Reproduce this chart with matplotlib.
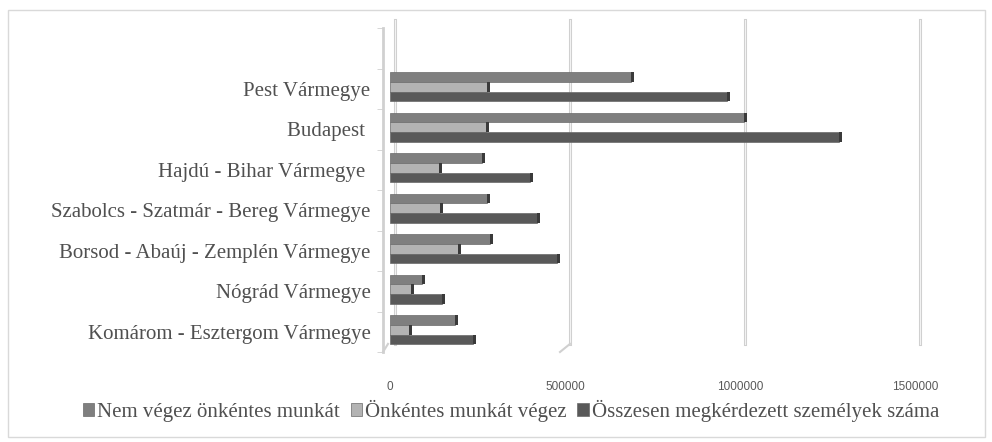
import matplotlib.pyplot as plt
import matplotlib.transforms as mtransforms
from matplotlib.patches import Rectangle
import numpy as np

# counties (bottom -> top as drawn)
megyek = ['Komárom - Esztergom Vármegye', 'Nógrád Vármegye',
          'Borsod - Abaúj - Zemplén Vármegye', 'Szabolcs - Szatmár - Bereg Vármegye',
          'Hajdú - Bihar Vármegye ', 'Budapest ', 'Pest Vármegye']
nem_vegez = [186000, 90000, 286000, 278000, 262000, 1011000, 688000]
onkentes = [55000, 59000, 195000, 143000, 141000, 274000, 276000]
osszesen = [238000, 148000, 476000, 421000, 400000, 1284000, 962000]
xticks = [0, 500000, 1000000, 1500000]

series = [('Nem végez önkéntes munkát', nem_vegez, '#7f7f7f', 0.24),
          ('Önkéntes munkát végez', onkentes, '#b3b3b3', 0.0),
          ('Összesen megkérdezett személyek száma', osszesen, '#595959', -0.24)]

fig = plt.figure(figsize=(9.92, 4.42), dpi=100)
W, H = 992, 442
ax = fig.add_axes([383 / W, (H - 352) / H, 539 / W, 324 / H])

# light frame round the whole chart
fig.patches.append(Rectangle((8 / W, 5 / H), 977 / W, 427 / H, transform=fig.transFigure,
                             fill=False, edgecolor='#d9d9d9', linewidth=1))

px = 1500000 / 525.0  # data units per pixel
y = np.arange(len(megyek)) + 0.05
h = 0.24
for name, vals, col, off in series:
    ax.barh(y + off, vals, height=h, color=col, edgecolor='#6a6a6a', linewidth=0.5,
            label=name, zorder=3)
    # dark end cap to hint at the 3D look
    ax.barh(y + off, [3 * px] * len(vals), left=vals, height=h, color='#3a3a3a',
            linewidth=0, zorder=3)

# back-wall gridlines, shifted a few pixels to the right
shift = mtransforms.ScaledTranslation(5 / 100, 8 / 100, fig.dpi_scale_trans)
for xv in xticks:
    ax.plot([xv, xv], [0.0, 1.0], transform=ax.get_xaxis_transform() + shift,
            color='#d0d0d0', linewidth=2.2, zorder=1, clip_on=False)
    ax.plot([xv, xv], [0.0, 1.0], transform=ax.get_xaxis_transform() + shift,
            color='#f4f4f4', linewidth=0.7, zorder=1, clip_on=False)

ax.set_xlim(-20000, 1520000)
ax.set_ylim(-0.5, 7.5)
ax.set_yticks(np.arange(len(megyek)))
ax.set_yticklabels(megyek, family=['Liberation Serif', 'DejaVu Serif'], fontsize=15,
                   color='#505050')
ax.set_yticks(np.arange(-0.5, 8.0, 1.0), minor=True)
ax.tick_params(axis='y', which='major', length=0, pad=9)
ax.tick_params(axis='y', which='minor', length=4, color='#d0d0d0', direction='out')
ax.set_xticks(xticks)
ax.set_xticklabels([str(v) for v in xticks],
                   family=['Liberation Sans Narrow', 'Liberation Sans'], fontsize=8.5,
                   color='#595959')
ax.tick_params(axis='x', length=0, pad=21)

for s in ['top', 'right', 'bottom']:
    ax.spines[s].set_visible(False)
ax.spines['left'].set_color('#d0d0d0')
ax.spines['left'].set_linewidth(2)

# floor diagonals at the bottom of the walls
ax.plot([-20000, -20000 + 5 * px], [-0.5, -0.5 + 0.2], color='#d0d0d0', linewidth=1.5,
        clip_on=False, zorder=1)
ax.plot([500000 - 5 * px, 500000 + 5 * px], [-0.5, -0.5 + 0.2], color='#d0d0d0',
        linewidth=1.5, clip_on=False, zorder=1)

fig.legend(loc='center', bbox_to_anchor=(511 / W, (H - 411) / H), ncol=3, frameon=False,
           prop={'family': ['Liberation Serif', 'DejaVu Serif'], 'size': 15},
           handlelength=0.55, handleheight=0.55, handletextpad=0.15, columnspacing=0.5,
           labelcolor='#505050')

fig.savefig('out.png', dpi=100, facecolor='white')
